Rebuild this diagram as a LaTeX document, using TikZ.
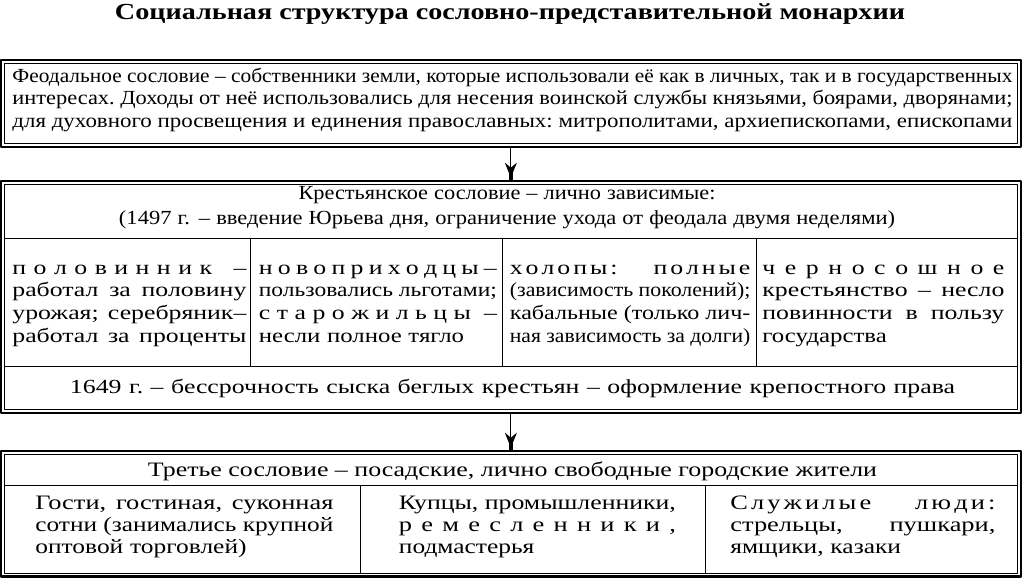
\documentclass[tikz,border=0pt]{standalone}
\usepackage{fontspec}
\usepackage{graphicx}
\setmainfont{Liberation Serif}[FakeStretch=1.24]
\usetikzlibrary{arrows.meta}
\newcommand\body{\fontsize{20}{22.6}\selectfont}
\newcommand\bodyb{\fontsize{20.5}{22.3}\selectfont}
\newsavebox\linebox
\newcommand\jl[2][\hsize]{\sbox\linebox{\frenchspacing\spaceskip=0pt\xspaceskip=0pt #2}%
	\ifdim1.04\wd\linebox>#1\relax\resizebox{#1}{\height}{\usebox\linebox}%
	\else\resizebox{#1}{\height}{\makebox[\dimexpr#1*962/1000\relax][s]{\frenchspacing\spaceskip=0pt\xspaceskip=0pt #2}}\fi}
\newcommand\fitto[2]{\resizebox{#1}{\height}{#2}}
\ExplSyntaxOn
\NewDocumentCommand\sprd{m}{\tl_map_inline:nn{#1}{##1\hfil}\unskip}
\ExplSyntaxOff
\begin{document}
\begin{tikzpicture}[x=1pt,y=-1pt,line join=round,thick]
	\tikzset{outerbox/.style={draw,line width=2.4pt,inner sep=0pt,outer sep=0pt},
		rule/.style={line width=0.9pt},
		txt/.style={anchor=base west,inner sep=0pt,align=left,font=\body},
		ctr/.style={anchor=base,inner sep=0pt,font=\body},
		link/.style={line width=0.9pt,shorten >=3pt,-{Stealth[length=15pt,width=12pt,inset=5pt]}},
		stem/.style={line width=4pt}}
	\fill[white] (0,0) rectangle (1024,578);
	\useasboundingbox (0,0) rectangle (1024,578);
	\node[anchor=base,inner sep=0pt,font=\bfseries\fontsize{23}{27}\selectfont] (title) at (510,19.5) {\jl[790pt]{Социальная структура сословно-представительной монархии}};
	\node[outerbox,minimum width=1019.7pt,minimum height=86.7pt] (feudal) at (510.85,103.35) {};
	\node[outerbox,minimum width=1019.7pt,minimum height=232pt] (peasant) at (510.85,296.7) {};
	\node[outerbox,minimum width=1019.7pt,minimum height=125.8pt] (town) at (510.85,513.6) {};
	\foreach \b in {feudal,peasant,town}
	\draw[rule] ([shift={(3.3pt,-3.3pt)}]\b.north west) rectangle ([shift={(-3.3pt,3.3pt)}]\b.south east);
	\draw[link] (feudal) -- (peasant);
	\draw[stem] ([yshift=8pt]peasant.north) -- (peasant.north);
	\draw[link] (peasant) -- (town);
	\draw[stem] ([yshift=8pt]town.north) -- (town.north);
	\draw[rule] (4.3,238.3) -- (1017.4,238.3);
	\draw[rule] (4.3,366.7) -- (1017.4,366.7);
	\foreach \x in {250.7,502.7,756}
	\draw[rule] (\x,238.3) -- (\x,366.7);
	\draw[rule] (4.3,485) -- (1017.4,485);
	\foreach \x in {360,705}
	\draw[rule] (\x,485) -- (\x,573.2);
	\node[txt,text width=1000pt,font=\fontsize{20}{22.5}\selectfont] (feudaltext) at (12,82.2) {\jl{Феодальное сословие – собственники земли, которые использовали её как в личных, так и в государственных}\\
		\jl{интересах. Доходы от неё использовались для несения воинской службы князьями, боярами, дворянами;}\\
		\jl{для духовного просвещения и единения православных: митрополитами, архиепископами, епископами}};
	\node[ctr,text width=1000pt,align=center,font=\fontsize{20}{24.5}\selectfont] (peasanthead) at (507,199.5) {\fitto{417pt}{Крестьянское сословие – лично зависимые:}\\
		\fitto{776pt}{(1497 г. – введение Юрьева дня, ограничение ухода от феодала двумя неделями)}};
	\node[txt,text width=234pt] (halfer) at (12,274.3) {\jl{\sprd{половинник}\hfil\hfil\ –}\\
		\jl{работал за половину}\\
		\jl{урожая; серебряник–}\\
		\jl{работал за проценты}};
	\node[txt,text width=238pt] (newcomer) at (258.5,274.3) {\jl{\sprd{новоприходцы–}}\\
		\jl{пользовались льготами;}\\
		\jl{\sprd{старожильцы}\hfil\ –}\\
		несли полное тягло};
	\node[txt,text width=240.5pt] (serf) at (509.5,274.3) {\jl{\sprd{холопы:}\hskip 0pt plus 10fil\ \sprd{полные}}\\
		\jl{(зависимость поколений);}\\
		\jl{кабальные (только лич-}\\
		\jl{ная зависимость за долги)}};
	\node[txt,text width=242pt] (blacksown) at (762,274.3) {\jl{\sprd{черносошное}}\\
		\jl{крестьянство – несло}\\
		\jl{повинности в пользу}\\
		государства};
	\node[ctr] (serfdom) at (512.5,393.3) {\jl[885pt]{1649 г. – бессрочность сыска беглых крестьян – оформление крепостного права}};
	\node[ctr,font=\bodyb] (townhead) at (512.5,476) {\jl[729pt]{Третье сословие – посадские, лично свободные городские жители}};
	\node[txt,text width=298pt,font=\bodyb] (guests) at (35,509.3) {\jl{Гости, гостиная, суконная}\\
		\jl{сотни (занимались крупной}\\
		оптовой торговлей)};
	\node[txt,text width=277pt,font=\bodyb] (merchants) at (398.5,509.3) {\jl{Купцы, промышленники,}\\
		\jl{\sprd{ремесленники,}}\\
		подмастерья};
	\node[txt,text width=265pt,font=\bodyb] (servicemen) at (730,509.3) {\jl{\sprd{Служилые}\hskip 0pt plus 12fil\ \sprd{люди:}}\\
		\jl{стрельцы, пушкари,}\\
		ямщики, казаки};
\end{tikzpicture}
\end{document}
